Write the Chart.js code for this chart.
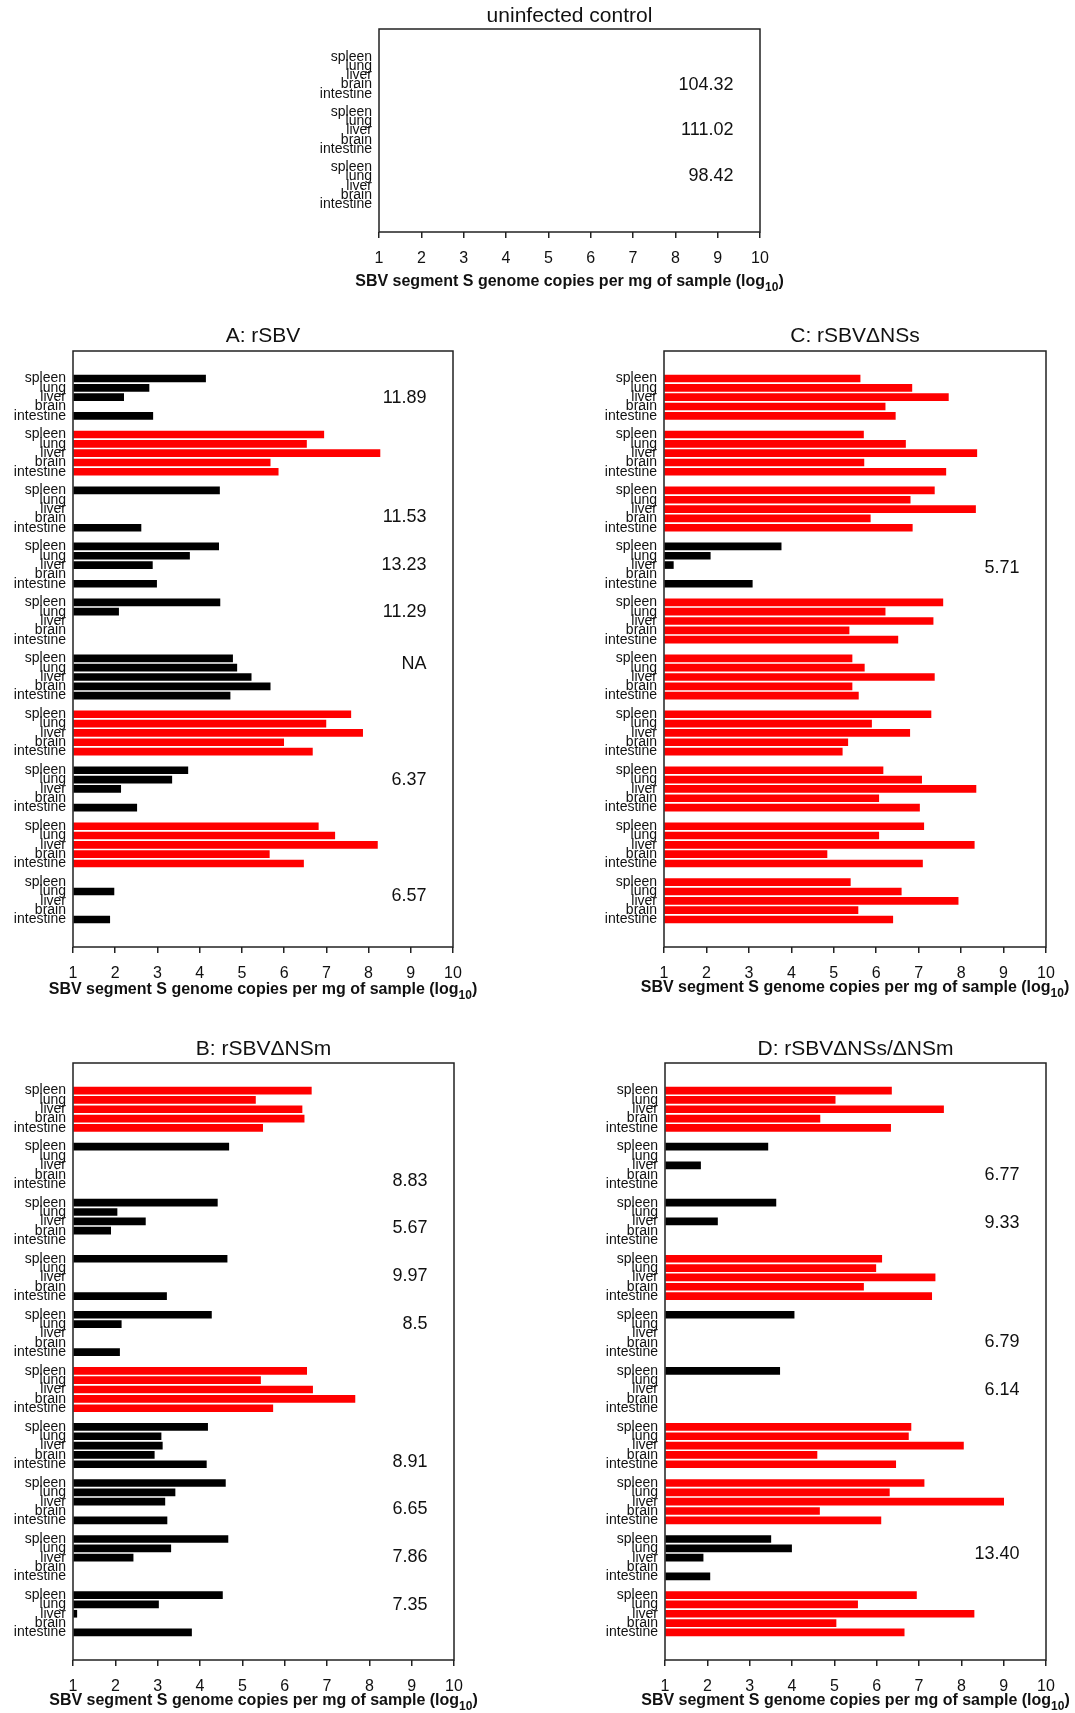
<!DOCTYPE html>
<html lang="en">
<head>
<meta charset="UTF-8">
<title>SBV genome copies per organ</title>
<script src="https://cdn.jsdelivr.net/npm/chart.js"></script>
<style>
    body { margin: 0; background: #fff; width: 1075px; height: 1713px; overflow: hidden; position: relative; }
    canvas { position: absolute; }
</style>
</head>
<body>

<canvas id="ctl"></canvas>
<canvas id="panelA"></canvas>
<canvas id="panelC"></canvas>
<canvas id="panelB"></canvas>
<canvas id="panelD"></canvas>

<script>
// organ order inside every animal block
const organs = ['spleen', 'lung', 'liver', 'brain', 'intestine'];
const xTicks = [1, 2, 3, 4, 5, 6, 7, 8, 9, 10];

// uninfected control: no bars, only the side values
const ctlValues = [
    [null, null, null, null, null],
    [null, null, null, null, null],
    [null, null, null, null, null]
];
const ctlRed = [0, 0, 0];
const ctlNotes = ['104.32', '111.02', '98.42'];
const ctlNoteAt = [3.1, 8.0, 13.0];

// A: rSBV
const aValues = [
    [4.14, 2.80, 2.20, null, 2.89],
    [6.94, 6.53, 8.27, 5.67, 5.86],
    [4.47, null, null, null, 2.61],
    [4.45, 3.76, 2.88, null, 2.98],
    [4.48, 2.08, null, null, null],
    [4.78, 4.88, 5.22, 5.67, 4.72],
    [7.58, 6.99, 7.86, 5.99, 6.67],
    [3.72, 3.34, 2.13, null, 2.51],
    [6.81, 7.20, 8.21, 5.65, 6.46],
    [null, 1.97, null, null, 1.87]
];
const aRed = [0, 1, 0, 0, 0, 0, 1, 0, 1, 0];
const aNotes = ['11.89', null, '11.53', '13.23', '11.29', 'NA', null, '6.37', null, '6.57'];
const aNoteAt = [2.1, null, 14.85, 20.0, 25.05, 30.6, null, 43.1, null, 55.5];

// C: rSBV delta NSs
const cValues = [
    [5.62, 6.84, 7.70, 6.21, 6.45],
    [5.70, 6.69, 8.37, 5.71, 7.64],
    [7.37, 6.80, 8.34, 5.86, 6.85],
    [3.76, 2.09, 1.22, null, 3.08],
    [7.57, 6.21, 7.34, 5.36, 6.51],
    [5.43, 5.72, 7.37, 5.43, 5.58],
    [7.29, 5.89, 6.79, 5.33, 5.20],
    [6.16, 7.07, 8.35, 6.06, 7.02],
    [7.12, 6.06, 8.31, 4.84, 7.09],
    [5.39, 6.59, 7.93, 5.57, 6.39]
];
const cRed = [1, 1, 1, 0, 1, 1, 1, 1, 1, 1];
const cNotes = [null, null, null, '5.71', null, null, null, null, null, null];
const cNoteAt = [null, null, null, 20.35, null, null, null, null, null, null];

// B: rSBV delta NSm
const bValues = [
    [6.63, 5.31, 6.41, 6.46, 5.48],
    [4.68, null, null, null, null],
    [4.41, 2.04, 2.71, 1.89, null],
    [4.64, null, null, null, 3.21],
    [4.27, 2.14, null, null, 2.10],
    [6.52, 5.43, 6.66, 7.66, 5.72],
    [4.18, 3.08, 3.11, 2.92, 4.15],
    [4.60, 3.41, 3.17, null, 3.22],
    [4.66, 3.31, 2.42, null, null],
    [4.53, 3.02, 1.09, null, 3.80]
];
const bRed = [1, 0, 0, 0, 0, 1, 0, 0, 0, 0];
const bNotes = [null, '8.83', '5.67', '9.97', '8.5', null, '8.91', '6.65', '7.86', '7.35'];
const bNoteAt = [null, 9.65, 14.75, 19.9, 24.95, null, 39.8, 44.8, 49.95, 55.05];

// D: rSBV delta NSs / delta NSm
const dValues = [
    [6.35, 5.02, 7.58, 4.66, 6.33],
    [3.43, null, 1.84, null, null],
    [3.62, null, 2.24, null, null],
    [6.12, 5.98, 7.38, 5.69, 7.30],
    [4.05, null, null, null, null],
    [3.71, null, null, null, null],
    [6.81, 6.75, 8.05, 4.59, 6.45],
    [7.12, 6.30, 9.00, 4.65, 6.10],
    [3.50, 3.99, 1.90, null, 2.06],
    [6.94, 5.55, 8.30, 5.04, 6.65]
];
const dRed = [1, 0, 0, 1, 0, 0, 1, 1, 0, 1];
const dNotes = [null, '6.77', '9.33', null, '6.79', '6.14', null, null, '13.40', null];
const dNoteAt = [null, 9.05, 14.2, null, 26.95, 32.05, null, null, 49.6, null];

const FONT = "'Liberation Sans', Arial, Helvetica, sans-serif";
const INK = '#111';
const Y_AXIS_W = 73;
const PAD_TOP = 29;
const PAD_RIGHT = 47;
const X_AXIS_H = 63;

Chart.defaults.font.family = FONT;
Chart.defaults.color = INK;

// frame, panel title, side values and the x title with its subscript
const panelDecor = {
    id: 'panelDecor',
    afterDatasetsDraw(chart, args, opts) {
        const ctx = chart.ctx;
        const a = chart.chartArea;
        const yScale = chart.scales.y;
        ctx.save();
        ctx.fillStyle = INK;
        ctx.textBaseline = 'middle';

        ctx.font = '18px ' + FONT;
        ctx.textAlign = 'right';
        opts.notes.forEach(function (txt, i) {
            if (txt == null) return;
            ctx.fillText(txt, a.right - 26.5, yScale.getPixelForValue(opts.noteAt[i]));
        });

        ctx.strokeStyle = '#222';
        ctx.lineWidth = 1.5;
        ctx.strokeRect(a.left, a.top, a.right - a.left, a.bottom - a.top);

        const cx = (a.left + a.right) / 2;
        ctx.font = '21px ' + FONT;
        ctx.textAlign = 'center';
        ctx.fillText(opts.title, cx, a.top - opts.titleGap);

        // x title: "... (log" + subscript "10" + ")"
        const main = 'SBV segment S genome copies per mg of sample (log';
        const sub = '10';
        const tail = ')';
        const big = 'bold 16px ' + FONT;
        const small = 'bold 12px ' + FONT;
        ctx.font = big;
        const wMain = ctx.measureText(main).width;
        const wTail = ctx.measureText(tail).width;
        ctx.font = small;
        const wSub = ctx.measureText(sub).width;
        let x = cx - (wMain + wSub + wTail) / 2;
        const y = a.bottom + opts.xTitleGap;
        ctx.textAlign = 'left';
        ctx.font = big;
        ctx.fillText(main, x, y);
        x += wMain;
        ctx.font = small;
        ctx.fillText(sub, x, y + 6);
        x += wSub;
        ctx.font = big;
        ctx.fillText(tail, x, y);
        ctx.restore();
    }
};

function makePanel(id, box, title, values, red, notes, noteAt, titleGap, xTitleGap) {
    const canvas = document.getElementById(id);
    const w = (box.r - box.l) + Y_AXIS_W + PAD_RIGHT;
    const h = (box.b - box.t) + PAD_TOP + X_AXIS_H;
    canvas.width = w;
    canvas.height = h;
    canvas.style.left = (box.l - Y_AXIS_W) + 'px';
    canvas.style.top = (box.t - PAD_TOP) + 'px';

    const points = [];
    const colors = [];
    const rows = [];
    values.forEach(function (grp, g) {
        grp.forEach(function (v, k) {
            const row = g * 6 + k;
            rows.push(row);
            if (v == null) return;
            points.push({ x: v, y: row });
            colors.push(red[g] ? '#ff0000' : '#000000');
        });
    });
    const lastRow = values.length * 6 - 2;
    const pad = values.length > 3 ? 2.95 : 3.04;

    return new Chart(canvas.getContext('2d'), {
        type: 'bar',
        data: {
            datasets: [{
                data: points,
                backgroundColor: colors,
                borderWidth: 0,
                base: 1,
                barThickness: 7
            }]
        },
        options: {
            indexAxis: 'y',
            responsive: false,
            maintainAspectRatio: false,
            animation: false,
            layout: { padding: { top: PAD_TOP, right: PAD_RIGHT, bottom: 0, left: 0 } },
            plugins: {
                legend: { display: false },
                tooltip: { enabled: false },
                title: { display: false },
                panelDecor: {
                    title: title,
                    notes: notes,
                    noteAt: noteAt,
                    titleGap: titleGap,
                    xTitleGap: xTitleGap
                }
            },
            scales: {
                x: {
                    type: 'linear',
                    min: 1,
                    max: 10,
                    afterBuildTicks: function (s) { s.ticks = xTicks.map(v => ({ value: v })); },
                    afterFit: function (s) { s.height = X_AXIS_H; },
                    grid: { drawOnChartArea: false, drawTicks: true, tickLength: 6, color: '#222', lineWidth: 1.5 },
                    border: { display: false },
                    ticks: { font: { size: 16 }, color: INK, padding: 11, maxRotation: 0 }
                },
                y: {
                    type: 'linear',
                    offset: false,
                    reverse: true,
                    min: -pad,
                    max: lastRow + pad,
                    afterBuildTicks: function (s) { s.ticks = rows.map(v => ({ value: v })); },
                    afterFit: function (s) { s.width = Y_AXIS_W; },
                    grid: { display: false, drawTicks: false, offset: false },
                    border: { display: false },
                    ticks: {
                        autoSkip: false,
                        padding: 7,
                        font: { size: 14 },
                        color: INK,
                        callback: function (value) { return organs[((value % 6) + 6) % 6]; }
                    }
                }
            }
        },
        plugins: [panelDecor]
    });
}

makePanel('ctl', { l: 379, t: 29, r: 760, b: 232 }, 'uninfected control', ctlValues, ctlRed, ctlNotes, ctlNoteAt, 12.5, 50);
makePanel('panelA', { l: 73, t: 351, r: 453, b: 947 }, 'A: rSBV', aValues, aRed, aNotes, aNoteAt, 14.5, 43);
makePanel('panelC', { l: 664, t: 351, r: 1046, b: 947 }, 'C: rSBV\u0394NSs', cValues, cRed, cNotes, cNoteAt, 14.5, 41);
makePanel('panelB', { l: 73, t: 1063, r: 454, b: 1660 }, 'B: rSBV\u0394NSm', bValues, bRed, bNotes, bNoteAt, 14, 41);
makePanel('panelD', { l: 665, t: 1063, r: 1046, b: 1660 }, 'D: rSBV\u0394NSs/\u0394NSm', dValues, dRed, dNotes, dNoteAt, 14, 41);
</script>
</body>
</html>
